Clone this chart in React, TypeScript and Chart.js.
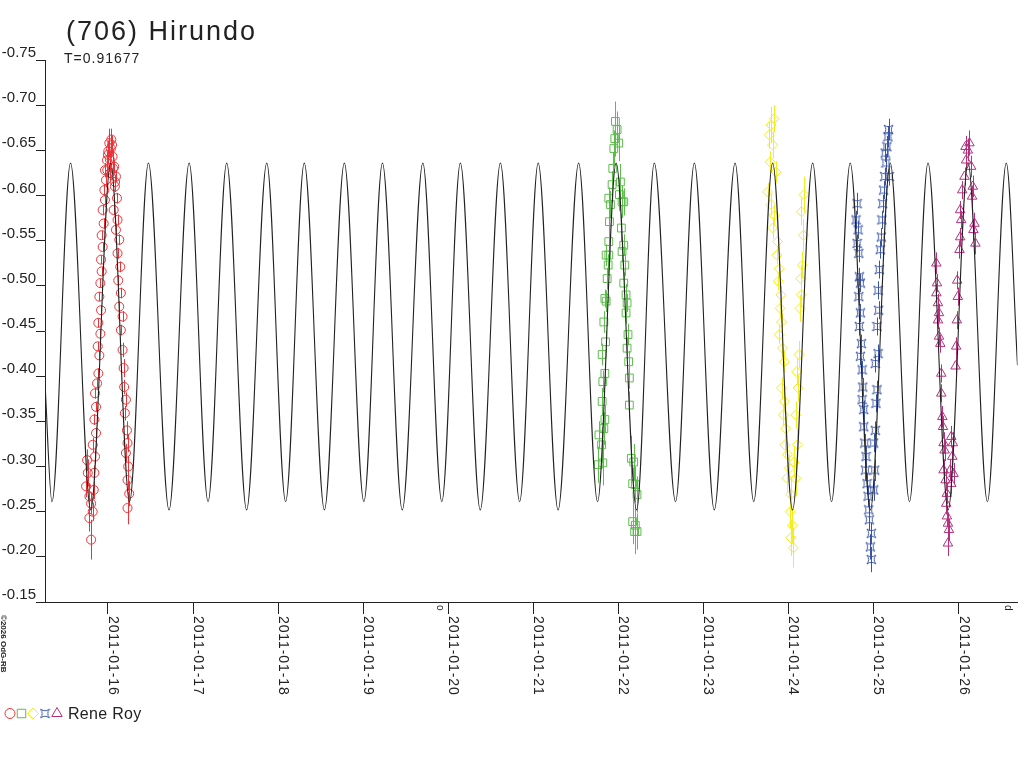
import { useEffect, useRef } from "react";
import { Chart, registerables } from "chart.js";
import type { ChartConfiguration, Plugin as ChartPlugin, Scale } from "chart.js";
import { drawPoint } from "chart.js/helpers";

Chart.register(...registerables);

const FONT = "'Liberation Sans', Arial, sans-serif";
const INK = "#222222";

const titleText = "(706) Hirundo";
const periodText = "T=0.91677";
const observerText = "Rene Roy";
const copyrightText = "\u00A92026 OdG-RB";

// x axis in days of January 2011, y axis in magnitudes (reversed)
const xMin = 15.26;
const xMax = 26.693;
const dayTicks = [16, 17, 18, 19, 20, 21, 22, 23, 24, 25, 26];
const magTicks = [-0.75, -0.70, -0.65, -0.60, -0.55, -0.50, -0.45, -0.40, -0.35, -0.30, -0.25, -0.20, -0.15];

// fitted lightcurve, read at its turning points
const curveDays = [
    15.260, 15.342, 15.560, 15.798, 16.032, 16.254, 16.476, 16.718, 16.955, 17.177,
    17.396, 17.630, 17.867, 18.089, 18.308, 18.545, 18.779, 19.009, 19.227, 19.460,
    19.702, 19.925, 20.143, 20.377, 20.614, 20.840, 21.058, 21.292, 21.534, 21.756,
    21.974, 22.216, 22.423, 22.673, 22.894, 23.128, 23.373, 23.592, 23.814, 24.048,
    24.285, 24.507, 24.726, 24.963, 25.197, 25.423, 25.641, 25.878, 26.112, 26.339,
    26.561, 26.693
];
const curveMags = [
    -0.392,
    -0.261, -0.636, -0.252, -0.636, -0.261, -0.636, -0.252, -0.636,
    -0.261, -0.636, -0.252, -0.636, -0.261, -0.636, -0.252, -0.636,
    -0.261, -0.636, -0.252, -0.636, -0.261, -0.636, -0.252, -0.636,
    -0.261, -0.636, -0.252, -0.636, -0.261, -0.636, -0.252, -0.636,
    -0.261, -0.636, -0.252, -0.636, -0.261, -0.636, -0.252, -0.636,
    -0.261, -0.636, -0.252, -0.636, -0.261, -0.636, -0.252, -0.636,
    -0.261, -0.636,
    -0.412
];

// observations: [day, mag, error]
const redPoints: [number, number, number][] = [
    [15.755, -0.307, 0.012], [15.763, -0.293, 0.015], [15.743, -0.278, 0.012], [15.782, -0.267, 0.014],
    [15.802, -0.259, 0.012], [15.821, -0.250, 0.010], [15.782, -0.243, 0.015], [15.802, -0.219, 0.022],
    [15.833, -0.274, 0.010], [15.841, -0.293, 0.008], [15.848, -0.311, 0.008], [15.821, -0.324, 0.008],
    [15.860, -0.337, 0.006], [15.841, -0.352, 0.006], [15.860, -0.366, 0.006], [15.848, -0.381, 0.006],
    [15.872, -0.392, 0.006], [15.887, -0.403, 0.006], [15.899, -0.423, 0.005], [15.880, -0.433, 0.005],
    [15.911, -0.447, 0.005], [15.887, -0.459, 0.005], [15.919, -0.473, 0.005], [15.899, -0.488, 0.005],
    [15.911, -0.503, 0.005], [15.926, -0.516, 0.005], [15.919, -0.529, 0.005], [15.938, -0.543, 0.005],
    [15.926, -0.556, 0.005], [15.950, -0.569, 0.006], [15.938, -0.584, 0.006], [15.965, -0.595, 0.006],
    [15.958, -0.606, 0.007], [15.977, -0.617, 0.008], [15.965, -0.628, 0.008], [15.989, -0.639, 0.010],
    [16.004, -0.649, 0.012], [16.016, -0.658, 0.016], [16.035, -0.652, 0.010], [16.055, -0.643, 0.008],
    [16.000, -0.645, 0.010], [16.022, -0.640, 0.010], [16.040, -0.662, 0.012], [16.048, -0.656, 0.010],
    [16.060, -0.630, 0.008], [16.028, -0.625, 0.008], [16.084, -0.615, 0.008], [15.992, -0.628, 0.008],
    [16.074, -0.632, 0.007], [16.094, -0.621, 0.006], [16.082, -0.610, 0.006], [16.106, -0.597, 0.006],
    [16.067, -0.584, 0.006], [16.113, -0.573, 0.006], [16.094, -0.562, 0.006], [16.133, -0.551, 0.006],
    [16.113, -0.536, 0.006], [16.145, -0.521, 0.006], [16.121, -0.506, 0.006], [16.152, -0.492, 0.006],
    [16.133, -0.477, 0.006], [16.172, -0.466, 0.006], [16.152, -0.451, 0.006], [16.172, -0.429, 0.008],
    [16.184, -0.409, 0.010], [16.191, -0.388, 0.008], [16.211, -0.374, 0.008], [16.199, -0.359, 0.008],
    [16.223, -0.340, 0.010], [16.230, -0.326, 0.010], [16.211, -0.315, 0.010], [16.238, -0.300, 0.012],
    [16.230, -0.285, 0.012], [16.250, -0.270, 0.014], [16.230, -0.254, 0.018]
];
const greenPoints: [number, number, number][] = [
    [21.764, -0.302, 0.020], [21.818, -0.304, 0.025], [21.803, -0.324, 0.020], [21.772, -0.335, 0.015],
    [21.830, -0.342, 0.018], [21.842, -0.352, 0.015], [21.810, -0.372, 0.015], [21.818, -0.394, 0.012],
    [21.842, -0.403, 0.012], [21.810, -0.424, 0.012], [21.850, -0.438, 0.012], [21.830, -0.460, 0.012],
    [21.857, -0.483, 0.012], [21.842, -0.486, 0.010], [21.869, -0.508, 0.012], [21.881, -0.523, 0.012],
    [21.857, -0.534, 0.012], [21.888, -0.534, 0.010], [21.888, -0.549, 0.012], [21.896, -0.571, 0.015],
    [21.908, -0.590, 0.015], [21.888, -0.597, 0.012], [21.927, -0.612, 0.015], [21.935, -0.630, 0.018],
    [21.947, -0.652, 0.020], [21.959, -0.663, 0.020], [21.986, -0.673, 0.020], [21.966, -0.682, 0.022],
    [22.005, -0.658, 0.020], [22.025, -0.615, 0.020], [22.044, -0.593, 0.018], [22.013, -0.601, 0.018],
    [22.064, -0.593, 0.015], [22.036, -0.564, 0.015], [22.064, -0.545, 0.012], [22.044, -0.538, 0.012],
    [22.076, -0.523, 0.012], [22.064, -0.503, 0.012], [22.091, -0.490, 0.012], [22.103, -0.481, 0.010],
    [22.091, -0.470, 0.012], [22.114, -0.446, 0.012], [22.103, -0.431, 0.012], [22.122, -0.416, 0.012],
    [22.130, -0.398, 0.012], [22.130, -0.368, 0.015], [22.153, -0.309, 0.025], [22.181, -0.305, 0.020],
    [22.200, -0.280, 0.020], [22.169, -0.281, 0.018], [22.220, -0.269, 0.020], [22.169, -0.239, 0.025],
    [22.200, -0.235, 0.022], [22.220, -0.228, 0.020], [22.192, -0.228, 0.025]
];
const yellowPoints: [number, number, number][] = [
    [23.794, -0.678, 0.020], [23.775, -0.667, 0.015], [23.833, -0.685, 0.015], [23.814, -0.656, 0.015],
    [23.786, -0.637, 0.012], [23.853, -0.626, 0.012], [23.755, -0.604, 0.010], [23.794, -0.590, 0.012],
    [23.833, -0.578, 0.012], [23.814, -0.564, 0.012], [23.872, -0.549, 0.010], [23.864, -0.534, 0.010],
    [23.891, -0.519, 0.010], [23.880, -0.505, 0.010], [23.911, -0.490, 0.010], [23.903, -0.475, 0.010],
    [23.919, -0.460, 0.010], [23.891, -0.446, 0.010], [23.930, -0.431, 0.010], [23.950, -0.416, 0.012],
    [23.919, -0.387, 0.012], [23.950, -0.372, 0.012], [23.942, -0.357, 0.012], [23.969, -0.342, 0.012],
    [23.958, -0.324, 0.015], [23.989, -0.313, 0.015], [24.008, -0.298, 0.015], [23.981, -0.287, 0.015],
    [24.028, -0.269, 0.018], [24.020, -0.250, 0.018], [24.047, -0.235, 0.020], [24.028, -0.221, 0.020],
    [24.059, -0.210, 0.022], [24.086, -0.287, 0.020], [24.067, -0.305, 0.018], [24.106, -0.324, 0.018],
    [24.086, -0.357, 0.015], [24.114, -0.387, 0.015], [24.098, -0.405, 0.015], [24.125, -0.424, 0.015],
    [24.137, -0.475, 0.015], [24.153, -0.490, 0.015], [24.145, -0.508, 0.015], [24.164, -0.523, 0.015],
    [24.176, -0.556, 0.018], [24.153, -0.582, 0.015], [24.184, -0.601, 0.020]
];
const bluePoints: [number, number, number][] = [
    [24.807, -0.591, 0.012], [24.795, -0.573, 0.010], [24.819, -0.562, 0.010], [24.807, -0.547, 0.010],
    [24.827, -0.536, 0.010], [24.834, -0.510, 0.010], [24.846, -0.503, 0.010], [24.827, -0.488, 0.010],
    [24.846, -0.470, 0.010], [24.834, -0.455, 0.010], [24.858, -0.436, 0.010], [24.846, -0.422, 0.010],
    [24.866, -0.407, 0.010], [24.873, -0.388, 0.010], [24.866, -0.374, 0.010], [24.885, -0.363, 0.010],
    [24.885, -0.344, 0.010], [24.897, -0.326, 0.010], [24.912, -0.311, 0.012], [24.905, -0.296, 0.012],
    [24.924, -0.281, 0.012], [24.936, -0.267, 0.012], [24.944, -0.252, 0.012], [24.951, -0.241, 0.012],
    [24.975, -0.226, 0.012], [24.963, -0.211, 0.014], [24.975, -0.197, 0.014], [25.002, -0.274, 0.012],
    [25.014, -0.296, 0.012], [25.002, -0.326, 0.010], [25.021, -0.340, 0.010], [25.029, -0.370, 0.010],
    [25.041, -0.385, 0.010], [25.021, -0.414, 0.010], [25.053, -0.425, 0.010], [25.041, -0.455, 0.010],
    [25.060, -0.473, 0.010], [25.053, -0.495, 0.010], [25.068, -0.518, 0.010], [25.080, -0.540, 0.010],
    [25.092, -0.554, 0.010], [25.099, -0.573, 0.010], [25.107, -0.591, 0.010], [25.119, -0.606, 0.010],
    [25.131, -0.621, 0.010], [25.146, -0.636, 0.010], [25.158, -0.654, 0.012], [25.170, -0.665, 0.012],
    [25.177, -0.673, 0.012], [25.138, -0.647, 0.010], [25.185, -0.621, 0.010]
];
const magentaPoints: [number, number, number][] = [
    [25.739, -0.525, 0.012], [25.746, -0.503, 0.010], [25.739, -0.492, 0.010], [25.758, -0.481, 0.010],
    [25.770, -0.470, 0.010], [25.758, -0.462, 0.010], [25.770, -0.444, 0.010], [25.785, -0.436, 0.010],
    [25.797, -0.403, 0.010], [25.797, -0.381, 0.010], [25.809, -0.355, 0.012], [25.817, -0.344, 0.012],
    [25.824, -0.326, 0.012], [25.836, -0.318, 0.012], [25.824, -0.296, 0.012], [25.848, -0.285, 0.012],
    [25.863, -0.270, 0.012], [25.855, -0.259, 0.012], [25.863, -0.245, 0.012], [25.875, -0.237, 0.012],
    [25.887, -0.230, 0.012], [25.875, -0.215, 0.014], [25.902, -0.296, 0.012], [25.914, -0.281, 0.012],
    [25.914, -0.333, 0.012], [25.933, -0.326, 0.012], [25.926, -0.311, 0.012], [25.941, -0.292, 0.012],
    [25.965, -0.411, 0.012], [25.972, -0.433, 0.010], [25.980, -0.462, 0.010], [25.992, -0.488, 0.010],
    [25.984, -0.506, 0.010], [26.011, -0.540, 0.010], [26.019, -0.554, 0.010], [26.031, -0.573, 0.010],
    [26.019, -0.584, 0.010], [26.043, -0.606, 0.010], [26.070, -0.621, 0.010], [26.089, -0.639, 0.012],
    [26.109, -0.650, 0.012], [26.128, -0.658, 0.014], [26.082, -0.654, 0.012], [26.148, -0.632, 0.012],
    [26.167, -0.610, 0.012], [26.159, -0.599, 0.012], [26.187, -0.569, 0.012], [26.175, -0.562, 0.012],
    [26.198, -0.547, 0.012]
];

const sessionColors = ["#ee3338", "#5dbd4c", "#f4ec1c", "#3b55a5", "#b5317f"];

// the blue symbol: a square with pinched sides
function makeBlueSymbol(color: string): HTMLCanvasElement {
    const c = document.createElement("canvas");
    c.width = 11;
    c.height = 11;
    const ctx = c.getContext("2d")!;
    ctx.strokeStyle = color;
    ctx.lineWidth = 1;
    ctx.beginPath();
    ctx.moveTo(1, 1);
    ctx.quadraticCurveTo(5.5, 4.5, 10, 1);
    ctx.quadraticCurveTo(6.5, 5.5, 10, 10);
    ctx.quadraticCurveTo(5.5, 6.5, 1, 10);
    ctx.quadraticCurveTo(4.5, 5.5, 1, 1);
    ctx.stroke();
    return c;
}

function rotatedText(ctx: CanvasRenderingContext2D, text: string, x: number, y: number, font: string, spacing: string) {
    ctx.save();
    ctx.translate(x, y);
    ctx.rotate(Math.PI / 2);
    ctx.font = font;
    (ctx as any).letterSpacing = spacing;
    ctx.textAlign = "left";
    ctx.textBaseline = "alphabetic";
    ctx.fillText(text, 0, 0);
    ctx.restore();
}

const errorBarPlugin: ChartPlugin = {
    id: "errorBars",
    beforeDatasetsDraw: (chart: Chart) => {
        const { ctx } = chart;
        const xs = chart.scales.x;
        const ys = chart.scales.y;
        ctx.save();
        ctx.lineWidth = 1;
        chart.data.datasets.forEach((ds: any) => {
            if (!ds.errors) return;
            ctx.strokeStyle = ds.borderColor;
            ds.data.forEach((p: { x: number, y: number }, i: number) => {
                const px = Math.round(xs.getPixelForValue(p.x)) + 0.5;
                ctx.beginPath();
                ctx.moveTo(px, ys.getPixelForValue(p.y - ds.errors[i]));
                ctx.lineTo(px, ys.getPixelForValue(p.y + ds.errors[i]));
                ctx.stroke();
            });
        });
        ctx.restore();
    }
};

const labelsPlugin: ChartPlugin = {
    id: "labels",
    afterDraw: (chart: Chart) => {
        const { ctx } = chart;
        const xs = chart.scales.x;
        ctx.save();
        ctx.fillStyle = INK;

        ctx.font = `27px ${FONT}`;
        (ctx as any).letterSpacing = "2px";
        ctx.textBaseline = "alphabetic";
        ctx.textAlign = "left";
        ctx.fillText(titleText, 66, 40);

        ctx.font = `14px ${FONT}`;
        (ctx as any).letterSpacing = "1px";
        ctx.fillText(periodText, 64, 63);

        // date labels, rotated to read downwards
        for (const d of dayTicks) {
            const px = xs.getPixelForValue(d);
            rotatedText(ctx, `2011-01-${String(d).padStart(2, "0")}`, px + 1, 616, `14px ${FONT}`, "0.9px");
        }
        rotatedText(ctx, "o", 437, 605, `10px ${FONT}`, "0px");
        rotatedText(ctx, "d", 1005, 605, `10px ${FONT}`, "0px");
        rotatedText(ctx, copyrightText, 1, 615, `bold 8px ${FONT}`, "0px");

        // legend
        const legendX = [10, 21.5, 33, 45, 57];
        const sets = chart.data.datasets.slice(1) as any[];
        sets.forEach((ds, i) => {
            ctx.strokeStyle = ds.borderColor;
            ctx.fillStyle = "rgba(0,0,0,0)";
            ctx.lineWidth = 1;
            drawPoint(ctx, { pointStyle: ds.pointStyle, radius: ds.pointRadius + 0.5, rotation: 0, borderWidth: 1 }, legendX[i], 713.5);
        });
        ctx.fillStyle = INK;
        ctx.font = `16px ${FONT}`;
        (ctx as any).letterSpacing = "0.3px";
        ctx.fillText(observerText, 68, 719);
        ctx.restore();
    }
};

function sessionDataset(points: [number, number, number][], color: string, pointStyle: any, radius: number) {
    return {
        data: points.map((p) => ({ x: p[0], y: p[1] })),
        errors: points.map((p) => p[2]),
        borderColor: color,
        backgroundColor: "rgba(0,0,0,0)",
        borderWidth: 1,
        pointStyle: pointStyle,
        pointRadius: radius,
        showLine: false,
        order: 1
    };
}

function getConfig(): ChartConfiguration {
    const sessions = [
        sessionDataset(redPoints, sessionColors[0], "circle", 4.5),
        sessionDataset(greenPoints, sessionColors[1], "rect", 5.5),
        sessionDataset(yellowPoints, sessionColors[2], "rectRot", 5),
        sessionDataset(bluePoints, sessionColors[3], makeBlueSymbol(sessionColors[3]), 5),
        sessionDataset(magentaPoints, sessionColors[4], "triangle", 5.5)
    ];
    return {
        type: "scatter",
        data: {
            datasets: [
                {
                    data: curveDays.map((d, i) => ({ x: d, y: curveMags[i] })),
                    showLine: true,
                    borderColor: INK,
                    borderWidth: 1.1,
                    pointRadius: 0,
                    cubicInterpolationMode: "monotone",
                    order: 0
                } as any,
                ...(sessions as any[])
            ]
        },
        options: {
            responsive: false,
            animation: false,
            devicePixelRatio: 1,
            layout: { padding: { top: 60, right: 1, left: 0, bottom: 0 } },
            scales: {
                x: {
                    type: "linear",
                    min: xMin,
                    max: xMax,
                    afterBuildTicks: (scale: Scale) => {
                        scale.ticks = dayTicks.map((v) => ({ value: v }));
                    },
                    afterFit: (scale: Scale) => {
                        scale.height = 166;
                    },
                    grid: { drawOnChartArea: false, drawTicks: true, tickLength: 12, color: INK },
                    border: { display: true, color: INK, width: 1 },
                    ticks: { display: false }
                },
                y: {
                    type: "linear",
                    reverse: true,
                    min: -0.75,
                    max: -0.15,
                    afterBuildTicks: (scale: Scale) => {
                        scale.ticks = magTicks.map((v) => ({ value: v }));
                    },
                    afterFit: (scale: Scale) => {
                        scale.width = 45;
                    },
                    grid: { drawOnChartArea: false, drawTicks: true, tickLength: 9, color: INK },
                    border: { display: true, color: INK, width: 1 },
                    ticks: {
                        padding: 0,
                        labelOffset: -7,
                        color: INK,
                        font: { family: FONT, size: 15 },
                        callback: (v: any) => Number(v).toFixed(2)
                    }
                }
            },
            plugins: {
                legend: { display: false },
                tooltip: { enabled: false }
            }
        },
        plugins: [errorBarPlugin, labelsPlugin]
    };
}

const LightcurveChart: React.FC = () => {
    const canvasRef = useRef<HTMLCanvasElement>(null);

    useEffect(() => {
        if (!canvasRef.current) {
            return;
        }
        const chart = new Chart(canvasRef.current, getConfig());
        return () => {
            chart.destroy();
        };
    }, []);

    return (
        <div style={{ position: "absolute", left: 0, top: 0, width: 1024, height: 768, background: "#fff" }}>
            <canvas ref={canvasRef} width={1024} height={768} style={{ width: 1024, height: 768 }} />
        </div>
    );
};

export default function App() {
    return <LightcurveChart />;
}
